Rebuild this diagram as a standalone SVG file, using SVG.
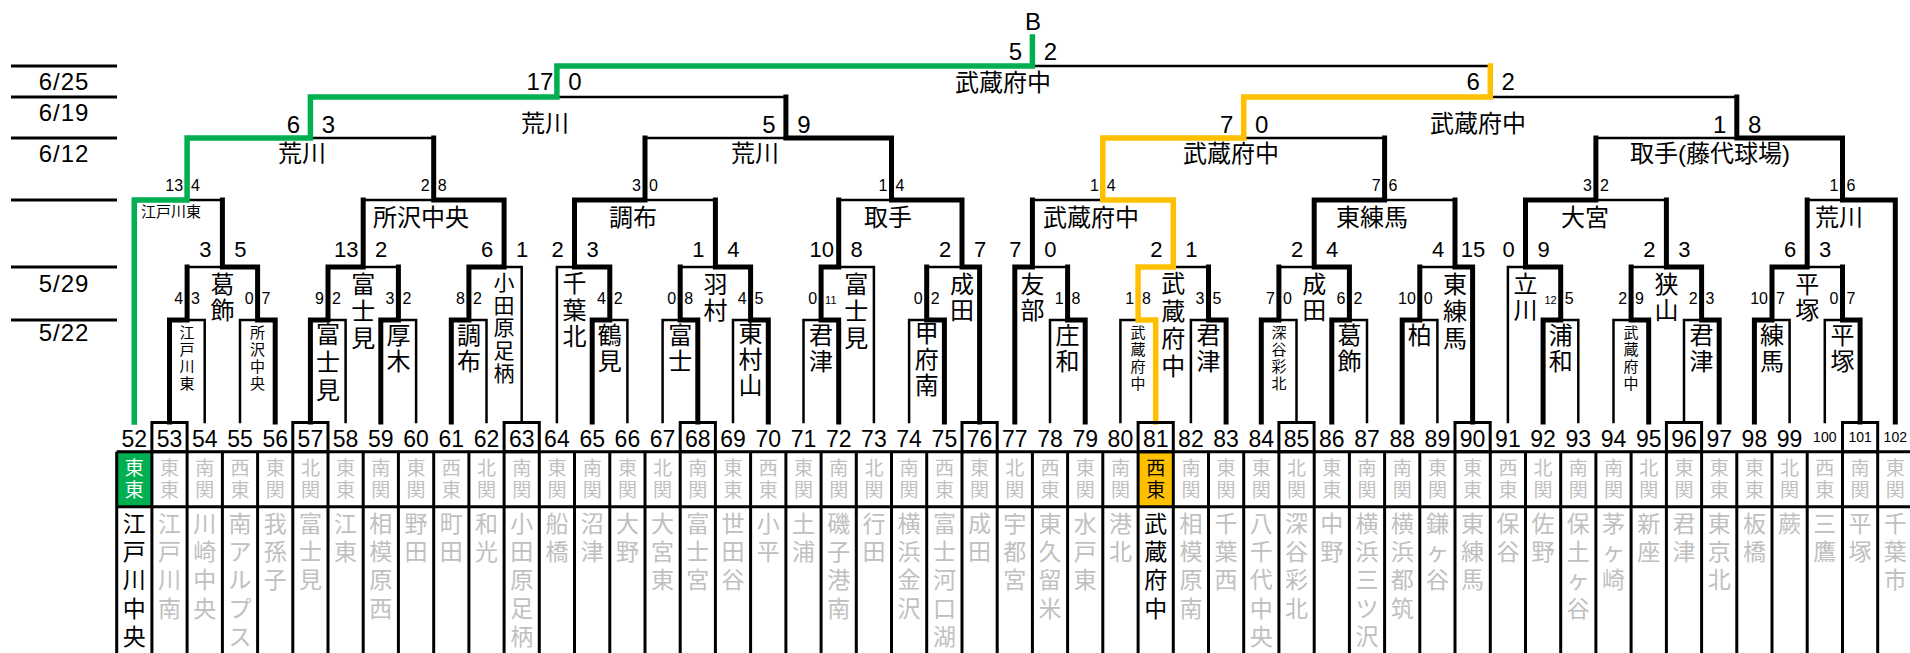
<svg xmlns="http://www.w3.org/2000/svg" width="1910" height="653" viewBox="0 0 1910 653">
<style>
text{font-family:"Liberation Sans","Noto Sans CJK JP",sans-serif;fill:#000}
.k{stroke:#000;stroke-width:5;fill:none;stroke-linecap:square;stroke-linejoin:miter}
.t{stroke:#000;stroke-width:2.5;fill:none;stroke-linecap:square;stroke-linejoin:miter}
.g{stroke:#00b050;stroke-width:5.5;fill:none;stroke-linecap:square;stroke-linejoin:miter}
.y{stroke:#ffc000;stroke-width:5.5;fill:none;stroke-linecap:square;stroke-linejoin:miter}
.gr{stroke:#000;stroke-width:3;fill:none}
.num{font-size:23px;text-anchor:middle}
.sn{font-size:14px;text-anchor:middle}
.rg{font-size:19px;text-anchor:middle;fill:#c0c0c0}
.nm{font-size:23px;text-anchor:middle;fill:#c0c0c0}
.w{fill:#000}
.wh{fill:#fff}
.sc{font-size:24px;text-anchor:middle}
.s2{font-size:22px;text-anchor:middle}
.sl{font-size:16px;text-anchor:end}
.sr{font-size:16px;text-anchor:start}
.tn{font-size:11px}
.lb{font-size:24px;text-anchor:middle}
.vl{font-size:24px;text-anchor:middle}
.v5{font-size:21px;text-anchor:middle}
.vs{font-size:15px;text-anchor:middle}
.dt{font-size:24px;text-anchor:middle;letter-spacing:1px}
</style>

<g id="dates">
<path class="gr" d="M11 66H117M11 97H117M11 138H117M11 200H117M11 267H117M11 320H117"/>
<text class="dt" x="64" y="90">6/25</text>
<text class="dt" x="64" y="120.7">6/19</text>
<text class="dt" x="64" y="162.3">6/12</text>
<text class="dt" x="64" y="291.7">5/29</text>
<text class="dt" x="64" y="341">5/22</text>
</g>

<g id="connectors">
<path class="t" d="M187.1 267H222.4M222.4 200H187.1M363.2 200H433.7M398.4 267H363.2M433.7 138H310.4M645 138H785.9M680.2 267H715.4M715.4 200H645M838.7 200H891.5M926.7 267H962M785.9 97H556.9M1032.4 200H1102.8M1067.6 267H1032.4M1208.5 267H1173.3M1278.9 267H1314.2M1384.6 138H1243.7M1419.8 267H1455M1455 200H1384.6M1595.9 138H1736.8M1631.1 267H1666.4M1666.4 200H1595.9M1807.2 200H1842.5M1842.5 267H1807.2M1736.8 97H1490.3M1032.4 66H1490.3
M204.7 422V320H187.1M240 422V320H257.6M345.6 422V320H328M416.1 422V320H398.4M486.5 422V320H468.9M521.7 422V267H504.1M556.9 422V267H574.5M627.4 422V320H609.8M662.6 422V320H680.2M733 422V320H750.6M803.5 422V320H821.1M873.9 422V267H838.7M909.1 422V320H926.7M1050 422V320H1067.6M1120.4 422V320H1138.1M1190.9 422V320H1208.5M1296.5 422V320H1278.9M1367 422V320H1349.4M1437.4 422V320H1419.8M1507.9 422V267H1525.5M1578.3 422V320H1560.7M1613.5 422V320H1631.1M1684 422V320H1701.6M1789.6 422V320H1772M1824.8 422V320H1842.5"/>
<path class="k" d="M169.5 422V320H187.1V267M275.2 422V320H257.6V267H222.4V200M310.4 422V320H328V267H363.2V200M380.8 422V320H398.4V267M451.3 422V320H468.9V267H504.1V200H433.7V138M592.2 422V320H609.8V267H574.5V200H645V138M697.8 422V320H680.2V267M768.3 422V320H750.6V267H715.4V200M838.7 422V320H821.1V267H838.7V200M944.4 422V320H926.7V267M979.6 422V267H962V200H891.5V138H785.9V97M1014.8 422V267H1032.4V200M1085.2 422V320H1067.6V267M1226.1 422V320H1208.5V267M1261.3 422V320H1278.9V267M1331.8 422V320H1349.4V267H1314.2V200H1384.6V138M1402.2 422V320H1419.8V267M1472.6 422V267H1455V200M1543.1 422V320H1560.7V267H1525.5V200H1595.9V138M1648.7 422V320H1631.1V267M1719.2 422V320H1701.6V267H1666.4V200M1754.4 422V320H1772V267H1807.2V200M1860.1 422V320H1842.5V267M1895.3 422V200H1842.5V138H1736.8V97"/>
<path class="g" d="M134.3 422V200H187.1V138H310.4V97H556.9V66H1032.4V37"/>
<path class="y" d="M1155.7 422V320H1138.1V267H1173.3V200H1102.8V138H1243.7V97H1490.3V66"/>
</g>

<g id="champion">
<text class="sc" x="1033" y="30">B</text>
</g>

<g id="scores">
<text class="sc" x="1015.4" y="59.5">5</text><text class="sc" x="1050.4" y="59.5">2</text>
<text class="sc" x="539.9" y="90">17</text><text class="sc" x="574.9" y="90">0</text>
<text class="sc" x="1473.3" y="90">6</text><text class="sc" x="1508.3" y="90">2</text>
<text class="sc" x="293.4" y="132.5">6</text><text class="sc" x="328.4" y="132.5">3</text>
<text class="sc" x="768.9" y="132.5">5</text><text class="sc" x="803.9" y="132.5">9</text>
<text class="sc" x="1226.7" y="132.5">7</text><text class="sc" x="1261.7" y="132.5">0</text>
<text class="sc" x="1719.8" y="132.5">1</text><text class="sc" x="1754.8" y="132.5">8</text>

<text class="sl" x="183.1" y="191">13</text><text class="sr" x="191.1" y="191">4</text>
<text class="sl" x="429.7" y="191">2</text><text class="sr" x="437.7" y="191">8</text>
<text class="sl" x="641" y="191">3</text><text class="sr" x="649" y="191">0</text>
<text class="sl" x="887.5" y="191">1</text><text class="sr" x="895.5" y="191">4</text>
<text class="sl" x="1098.8" y="191">1</text><text class="sr" x="1106.8" y="191">4</text>
<text class="sl" x="1380.6" y="191">7</text><text class="sr" x="1388.6" y="191">6</text>
<text class="sl" x="1591.9" y="191">3</text><text class="sr" x="1599.9" y="191">2</text>
<text class="sl" x="1838.5" y="191">1</text><text class="sr" x="1846.5" y="191">6</text>

<text class="s2" x="205.4" y="256.5">3</text><text class="s2" x="240.4" y="256.5">5</text>
<text class="s2" x="346.2" y="256.5">13</text><text class="s2" x="381.2" y="256.5">2</text>
<text class="s2" x="487.1" y="256.5">6</text><text class="s2" x="522.1" y="256.5">1</text>
<text class="s2" x="557.5" y="256.5">2</text><text class="s2" x="592.5" y="256.5">3</text>
<text class="s2" x="698.4" y="256.5">1</text><text class="s2" x="733.4" y="256.5">4</text>
<text class="s2" x="821.7" y="256.5">10</text><text class="s2" x="856.7" y="256.5">8</text>
<text class="s2" x="945" y="256.5">2</text><text class="s2" x="980" y="256.5">7</text>
<text class="s2" x="1015.4" y="256.5">7</text><text class="s2" x="1050.4" y="256.5">0</text>
<text class="s2" x="1156.3" y="256.5">2</text><text class="s2" x="1191.3" y="256.5">1</text>
<text class="s2" x="1297.2" y="256.5">2</text><text class="s2" x="1332.2" y="256.5">4</text>
<text class="s2" x="1438" y="256.5">4</text><text class="s2" x="1473" y="256.5">15</text>
<text class="s2" x="1508.5" y="256.5">0</text><text class="s2" x="1543.5" y="256.5">9</text>
<text class="s2" x="1649.4" y="256.5">2</text><text class="s2" x="1684.4" y="256.5">3</text>
<text class="s2" x="1790.2" y="256.5">6</text><text class="s2" x="1825.2" y="256.5">3</text>

<text class="sl" x="183.1" y="304">4</text><text class="sr" x="191.1" y="304">3</text>
<text class="sl" x="253.6" y="304">0</text><text class="sr" x="261.6" y="304">7</text>
<text class="sl" x="324" y="304">9</text><text class="sr" x="332" y="304">2</text>
<text class="sl" x="394.4" y="304">3</text><text class="sr" x="402.4" y="304">2</text>
<text class="sl" x="464.9" y="304">8</text><text class="sr" x="472.9" y="304">2</text>
<text class="sl" x="605.8" y="304">4</text><text class="sr" x="613.8" y="304">2</text>
<text class="sl" x="676.2" y="304">0</text><text class="sr" x="684.2" y="304">8</text>
<text class="sl" x="746.6" y="304">4</text><text class="sr" x="754.6" y="304">5</text>
<text class="sl" x="817.1" y="304">0</text><text class="sr tn" x="825.1" y="304">11</text>
<text class="sl" x="922.7" y="304">0</text><text class="sr" x="930.7" y="304">2</text>
<text class="sl" x="1063.6" y="304">1</text><text class="sr" x="1071.6" y="304">8</text>
<text class="sl" x="1134.1" y="304">1</text><text class="sr" x="1142.1" y="304">8</text>
<text class="sl" x="1204.5" y="304">3</text><text class="sr" x="1212.5" y="304">5</text>
<text class="sl" x="1274.9" y="304">7</text><text class="sr" x="1282.9" y="304">0</text>
<text class="sl" x="1345.4" y="304">6</text><text class="sr" x="1353.4" y="304">2</text>
<text class="sl" x="1415.8" y="304">10</text><text class="sr" x="1423.8" y="304">0</text>
<text class="sl tn" x="1556.7" y="304">12</text><text class="sr" x="1564.7" y="304">5</text>
<text class="sl" x="1627.1" y="304">2</text><text class="sr" x="1635.1" y="304">9</text>
<text class="sl" x="1697.6" y="304">2</text><text class="sr" x="1705.6" y="304">3</text>
<text class="sl" x="1768" y="304">10</text><text class="sr" x="1776" y="304">7</text>
<text class="sl" x="1838.5" y="304">0</text><text class="sr" x="1846.5" y="304">7</text>
</g>

<g id="venues">
<text class="lb" x="1003" y="90.8">武蔵府中</text>
<text class="lb" x="545" y="132">荒川</text>
<text class="lb" x="1478" y="132">武蔵府中</text>
<text class="lb" x="302" y="162">荒川</text>
<text class="lb" x="755" y="162">荒川</text>
<text class="lb" x="1231" y="162">武蔵府中</text>
<text class="lb" x="1710" y="162">取手(藤代球場)</text>
<text class="vs" x="171" y="216.7">江戸川東</text>
<text class="lb" x="421" y="225.6">所沢中央</text>
<text class="lb" x="633" y="225.6">調布</text>
<text class="lb" x="888" y="225.6">取手</text>
<text class="lb" x="1091" y="225.6">武蔵府中</text>
<text class="lb" x="1372" y="225.6">東練馬</text>
<text class="lb" x="1585" y="225.6">大宮</text>
<text class="lb" x="1839" y="225.6">荒川</text>

<text class="vl" x="222.4" y="293">葛<tspan x="222.4" dy="26">飾</tspan></text>
<text class="vl" x="363.2" y="293">富<tspan x="363.2" dy="27">士</tspan><tspan x="363.2" dy="27">見</tspan></text>
<text class="v5" x="504.1" y="289.7">小<tspan x="504.1" dy="22.8">田</tspan><tspan x="504.1" dy="22.8">原</tspan><tspan x="504.1" dy="22.8">足</tspan><tspan x="504.1" dy="22.8">柄</tspan></text>
<text class="vl" x="574.5" y="292">千<tspan x="574.5" dy="26.7">葉</tspan><tspan x="574.5" dy="26.7">北</tspan></text>
<text class="vl" x="715.4" y="293">羽<tspan x="715.4" dy="26">村</tspan></text>
<text class="vl" x="856.3" y="293">富<tspan x="856.3" dy="27">士</tspan><tspan x="856.3" dy="27">見</tspan></text>
<text class="vl" x="962" y="293">成<tspan x="962" dy="26">田</tspan></text>
<text class="vl" x="1032.4" y="293">友<tspan x="1032.4" dy="26">部</tspan></text>
<text class="vl" x="1173.3" y="292">武<tspan x="1173.3" dy="27.7">蔵</tspan><tspan x="1173.3" dy="27.7">府</tspan><tspan x="1173.3" dy="27.7">中</tspan></text>
<text class="vl" x="1314.2" y="293">成<tspan x="1314.2" dy="26">田</tspan></text>
<text class="vl" x="1455" y="293">東<tspan x="1455" dy="27">練</tspan><tspan x="1455" dy="27">馬</tspan></text>
<text class="vl" x="1525.5" y="293">立<tspan x="1525.5" dy="26">川</tspan></text>
<text class="vl" x="1666.4" y="293">狭<tspan x="1666.4" dy="26">山</tspan></text>
<text class="vl" x="1807.2" y="293">平<tspan x="1807.2" dy="26">塚</tspan></text>

<text class="vs" x="187.1" y="338.2">江<tspan x="187.1" dy="17">戸</tspan><tspan x="187.1" dy="17">川</tspan><tspan x="187.1" dy="17">東</tspan></text>
<text class="vs" x="257.6" y="338.2">所<tspan x="257.6" dy="17">沢</tspan><tspan x="257.6" dy="17">中</tspan><tspan x="257.6" dy="17">央</tspan></text>
<text class="vl" x="328" y="343">富<tspan x="328" dy="28">士</tspan><tspan x="328" dy="28">見</tspan></text>
<text class="vl" x="398.4" y="344">厚<tspan x="398.4" dy="26">木</tspan></text>
<text class="vl" x="468.9" y="344">調<tspan x="468.9" dy="26">布</tspan></text>
<text class="vl" x="609.8" y="344">鶴<tspan x="609.8" dy="26">見</tspan></text>
<text class="vl" x="680.2" y="344">富<tspan x="680.2" dy="26">士</tspan></text>
<text class="vl" x="750.6" y="342">東<tspan x="750.6" dy="26">村</tspan><tspan x="750.6" dy="26">山</tspan></text>
<text class="vl" x="821.1" y="344">君<tspan x="821.1" dy="26">津</tspan></text>
<text class="vl" x="926.7" y="342">甲<tspan x="926.7" dy="26">府</tspan><tspan x="926.7" dy="26">南</tspan></text>
<text class="vl" x="1067.6" y="344">庄<tspan x="1067.6" dy="26">和</tspan></text>
<text class="vs" x="1138.1" y="338.2">武<tspan x="1138.1" dy="17">蔵</tspan><tspan x="1138.1" dy="17">府</tspan><tspan x="1138.1" dy="17">中</tspan></text>
<text class="vl" x="1208.5" y="344">君<tspan x="1208.5" dy="26">津</tspan></text>
<text class="vs" x="1278.9" y="338.2">深<tspan x="1278.9" dy="17">谷</tspan><tspan x="1278.9" dy="17">彩</tspan><tspan x="1278.9" dy="17">北</tspan></text>
<text class="vl" x="1349.4" y="344">葛<tspan x="1349.4" dy="26">飾</tspan></text>
<text class="vl" x="1419.8" y="344">柏</text>
<text class="vl" x="1560.7" y="344">浦<tspan x="1560.7" dy="26">和</tspan></text>
<text class="vs" x="1631.1" y="338.2">武<tspan x="1631.1" dy="17">蔵</tspan><tspan x="1631.1" dy="17">府</tspan><tspan x="1631.1" dy="17">中</tspan></text>
<text class="vl" x="1701.6" y="344">君<tspan x="1701.6" dy="26">津</tspan></text>
<text class="vl" x="1772" y="344">練<tspan x="1772" dy="26">馬</tspan></text>
<text class="vl" x="1842.5" y="344">平<tspan x="1842.5" dy="26">塚</tspan></text>
</g>

<g id="table">
<rect x="116.7" y="451.7" width="35.22" height="55" fill="#00b050"/>
<rect x="1138.1" y="451.7" width="35.22" height="55" fill="#ffc000"/>
<path class="gr" d="M116.7 451.7H1910M116.7 506.7H1910M116.7 451.7V653M151.9 451.7V653M187.1 451.7V653M222.4 451.7V653M257.6 451.7V653M292.8 451.7V653M328 451.7V653M363.2 451.7V653M398.4 451.7V653M433.7 451.7V653M468.9 451.7V653M504.1 451.7V653M539.3 451.7V653M574.5 451.7V653M609.8 451.7V653M645 451.7V653M680.2 451.7V653M715.4 451.7V653M750.6 451.7V653M785.9 451.7V653M821.1 451.7V653M856.3 451.7V653M891.5 451.7V653M926.7 451.7V653M962 451.7V653M997.2 451.7V653M1032.4 451.7V653M1067.6 451.7V653M1102.8 451.7V653M1138.1 451.7V653M1173.3 451.7V653M1208.5 451.7V653M1243.7 451.7V653M1278.9 451.7V653M1314.2 451.7V653M1349.4 451.7V653M1384.6 451.7V653M1419.8 451.7V653M1455 451.7V653M1490.3 451.7V653M1525.5 451.7V653M1560.7 451.7V653M1595.9 451.7V653M1631.1 451.7V653M1666.4 451.7V653M1701.6 451.7V653M1736.8 451.7V653M1772 451.7V653M1807.2 451.7V653M1842.5 451.7V653M1877.7 451.7V653"/>
<path class="gr" d="M151.9 422.5h35.2v29.2h-35.2zM292.8 422.5h35.2v29.2h-35.2zM504.1 422.5h35.2v29.2h-35.2zM680.2 422.5h35.2v29.2h-35.2zM962 422.5h35.2v29.2h-35.2zM1138.1 422.5h35.2v29.2h-35.2zM1278.9 422.5h35.2v29.2h-35.2zM1455 422.5h35.2v29.2h-35.2zM1666.4 422.5h35.2v29.2h-35.2zM1842.5 422.5h35.2v29.2h-35.2z"/>
</g>

<g id="numbers">
<text class="num" x="134.3" y="446.5">52</text><text class="num" x="169.5" y="446.5">53</text><text class="num" x="204.7" y="446.5">54</text><text class="num" x="240" y="446.5">55</text><text class="num" x="275.2" y="446.5">56</text><text class="num" x="310.4" y="446.5">57</text><text class="num" x="345.6" y="446.5">58</text><text class="num" x="380.8" y="446.5">59</text><text class="num" x="416.1" y="446.5">60</text><text class="num" x="451.3" y="446.5">61</text><text class="num" x="486.5" y="446.5">62</text><text class="num" x="521.7" y="446.5">63</text><text class="num" x="556.9" y="446.5">64</text><text class="num" x="592.2" y="446.5">65</text><text class="num" x="627.4" y="446.5">66</text><text class="num" x="662.6" y="446.5">67</text><text class="num" x="697.8" y="446.5">68</text><text class="num" x="733" y="446.5">69</text><text class="num" x="768.3" y="446.5">70</text><text class="num" x="803.5" y="446.5">71</text><text class="num" x="838.7" y="446.5">72</text><text class="num" x="873.9" y="446.5">73</text><text class="num" x="909.1" y="446.5">74</text><text class="num" x="944.4" y="446.5">75</text><text class="num" x="979.6" y="446.5">76</text><text class="num" x="1014.8" y="446.5">77</text><text class="num" x="1050" y="446.5">78</text><text class="num" x="1085.2" y="446.5">79</text><text class="num" x="1120.4" y="446.5">80</text><text class="num" x="1155.7" y="446.5">81</text><text class="num" x="1190.9" y="446.5">82</text><text class="num" x="1226.1" y="446.5">83</text><text class="num" x="1261.3" y="446.5">84</text><text class="num" x="1296.5" y="446.5">85</text><text class="num" x="1331.8" y="446.5">86</text><text class="num" x="1367" y="446.5">87</text><text class="num" x="1402.2" y="446.5">88</text><text class="num" x="1437.4" y="446.5">89</text><text class="num" x="1472.6" y="446.5">90</text><text class="num" x="1507.9" y="446.5">91</text><text class="num" x="1543.1" y="446.5">92</text><text class="num" x="1578.3" y="446.5">93</text><text class="num" x="1613.5" y="446.5">94</text><text class="num" x="1648.7" y="446.5">95</text><text class="num" x="1684" y="446.5">96</text><text class="num" x="1719.2" y="446.5">97</text><text class="num" x="1754.4" y="446.5">98</text><text class="num" x="1789.6" y="446.5">99</text>
<text class="sn" x="1824.8" y="441.7">100</text><text class="sn" x="1860.1" y="441.7">101</text><text class="sn" x="1895.3" y="441.7">102</text>
</g>

<g id="regions">
<text class="rg wh" x="134.3" y="475.2">東<tspan x="134.3" y="496.7">東</tspan></text>
<text class="rg" x="169.5" y="475.2">東<tspan x="169.5" y="496.7">東</tspan></text>
<text class="rg" x="204.7" y="475.2">南<tspan x="204.7" y="496.7">関</tspan></text>
<text class="rg" x="240" y="475.2">西<tspan x="240" y="496.7">東</tspan></text>
<text class="rg" x="275.2" y="475.2">東<tspan x="275.2" y="496.7">関</tspan></text>
<text class="rg" x="310.4" y="475.2">北<tspan x="310.4" y="496.7">関</tspan></text>
<text class="rg" x="345.6" y="475.2">東<tspan x="345.6" y="496.7">東</tspan></text>
<text class="rg" x="380.8" y="475.2">南<tspan x="380.8" y="496.7">関</tspan></text>
<text class="rg" x="416.1" y="475.2">東<tspan x="416.1" y="496.7">関</tspan></text>
<text class="rg" x="451.3" y="475.2">西<tspan x="451.3" y="496.7">東</tspan></text>
<text class="rg" x="486.5" y="475.2">北<tspan x="486.5" y="496.7">関</tspan></text>
<text class="rg" x="521.7" y="475.2">南<tspan x="521.7" y="496.7">関</tspan></text>
<text class="rg" x="556.9" y="475.2">東<tspan x="556.9" y="496.7">関</tspan></text>
<text class="rg" x="592.2" y="475.2">南<tspan x="592.2" y="496.7">関</tspan></text>
<text class="rg" x="627.4" y="475.2">東<tspan x="627.4" y="496.7">関</tspan></text>
<text class="rg" x="662.6" y="475.2">北<tspan x="662.6" y="496.7">関</tspan></text>
<text class="rg" x="697.8" y="475.2">南<tspan x="697.8" y="496.7">関</tspan></text>
<text class="rg" x="733" y="475.2">東<tspan x="733" y="496.7">東</tspan></text>
<text class="rg" x="768.3" y="475.2">西<tspan x="768.3" y="496.7">東</tspan></text>
<text class="rg" x="803.5" y="475.2">東<tspan x="803.5" y="496.7">関</tspan></text>
<text class="rg" x="838.7" y="475.2">南<tspan x="838.7" y="496.7">関</tspan></text>
<text class="rg" x="873.9" y="475.2">北<tspan x="873.9" y="496.7">関</tspan></text>
<text class="rg" x="909.1" y="475.2">南<tspan x="909.1" y="496.7">関</tspan></text>
<text class="rg" x="944.4" y="475.2">西<tspan x="944.4" y="496.7">東</tspan></text>
<text class="rg" x="979.6" y="475.2">東<tspan x="979.6" y="496.7">関</tspan></text>
<text class="rg" x="1014.8" y="475.2">北<tspan x="1014.8" y="496.7">関</tspan></text>
<text class="rg" x="1050" y="475.2">西<tspan x="1050" y="496.7">東</tspan></text>
<text class="rg" x="1085.2" y="475.2">東<tspan x="1085.2" y="496.7">関</tspan></text>
<text class="rg" x="1120.4" y="475.2">南<tspan x="1120.4" y="496.7">関</tspan></text>
<text class="rg w" x="1155.7" y="475.2">西<tspan x="1155.7" y="496.7">東</tspan></text>
<text class="rg" x="1190.9" y="475.2">南<tspan x="1190.9" y="496.7">関</tspan></text>
<text class="rg" x="1226.1" y="475.2">東<tspan x="1226.1" y="496.7">関</tspan></text>
<text class="rg" x="1261.3" y="475.2">東<tspan x="1261.3" y="496.7">関</tspan></text>
<text class="rg" x="1296.5" y="475.2">北<tspan x="1296.5" y="496.7">関</tspan></text>
<text class="rg" x="1331.8" y="475.2">東<tspan x="1331.8" y="496.7">東</tspan></text>
<text class="rg" x="1367" y="475.2">南<tspan x="1367" y="496.7">関</tspan></text>
<text class="rg" x="1402.2" y="475.2">南<tspan x="1402.2" y="496.7">関</tspan></text>
<text class="rg" x="1437.4" y="475.2">東<tspan x="1437.4" y="496.7">関</tspan></text>
<text class="rg" x="1472.6" y="475.2">東<tspan x="1472.6" y="496.7">東</tspan></text>
<text class="rg" x="1507.9" y="475.2">西<tspan x="1507.9" y="496.7">東</tspan></text>
<text class="rg" x="1543.1" y="475.2">北<tspan x="1543.1" y="496.7">関</tspan></text>
<text class="rg" x="1578.3" y="475.2">南<tspan x="1578.3" y="496.7">関</tspan></text>
<text class="rg" x="1613.5" y="475.2">南<tspan x="1613.5" y="496.7">関</tspan></text>
<text class="rg" x="1648.7" y="475.2">北<tspan x="1648.7" y="496.7">関</tspan></text>
<text class="rg" x="1684" y="475.2">東<tspan x="1684" y="496.7">関</tspan></text>
<text class="rg" x="1719.2" y="475.2">東<tspan x="1719.2" y="496.7">東</tspan></text>
<text class="rg" x="1754.4" y="475.2">東<tspan x="1754.4" y="496.7">東</tspan></text>
<text class="rg" x="1789.6" y="475.2">北<tspan x="1789.6" y="496.7">関</tspan></text>
<text class="rg" x="1824.8" y="475.2">西<tspan x="1824.8" y="496.7">東</tspan></text>
<text class="rg" x="1860.1" y="475.2">南<tspan x="1860.1" y="496.7">関</tspan></text>
<text class="rg" x="1895.3" y="475.2">東<tspan x="1895.3" y="496.7">関</tspan></text>
</g>

<g id="teams">
<text class="nm w" x="134.3" y="531.7">江<tspan x="134.3" dy="28.3">戸</tspan><tspan x="134.3" dy="28.3">川</tspan><tspan x="134.3" dy="28.3">中</tspan><tspan x="134.3" dy="28.3">央</tspan></text>
<text class="nm" x="169.5" y="531.7">江<tspan x="169.5" dy="28.3">戸</tspan><tspan x="169.5" dy="28.3">川</tspan><tspan x="169.5" dy="28.3">南</tspan></text>
<text class="nm" x="204.7" y="531.7">川<tspan x="204.7" dy="28.3">崎</tspan><tspan x="204.7" dy="28.3">中</tspan><tspan x="204.7" dy="28.3">央</tspan></text>
<text class="nm" x="240" y="531.7">南<tspan x="240" dy="28.3">ア</tspan><tspan x="240" dy="28.3">ル</tspan><tspan x="240" dy="28.3">プ</tspan><tspan x="240" dy="28.3">ス</tspan></text>
<text class="nm" x="275.2" y="531.7">我<tspan x="275.2" dy="28.3">孫</tspan><tspan x="275.2" dy="28.3">子</tspan></text>
<text class="nm" x="310.4" y="531.7">富<tspan x="310.4" dy="28.3">士</tspan><tspan x="310.4" dy="28.3">見</tspan></text>
<text class="nm" x="345.6" y="531.7">江<tspan x="345.6" dy="28.3">東</tspan></text>
<text class="nm" x="380.8" y="531.7">相<tspan x="380.8" dy="28.3">模</tspan><tspan x="380.8" dy="28.3">原</tspan><tspan x="380.8" dy="28.3">西</tspan></text>
<text class="nm" x="416.1" y="531.7">野<tspan x="416.1" dy="28.3">田</tspan></text>
<text class="nm" x="451.3" y="531.7">町<tspan x="451.3" dy="28.3">田</tspan></text>
<text class="nm" x="486.5" y="531.7">和<tspan x="486.5" dy="28.3">光</tspan></text>
<text class="nm" x="521.7" y="531.7">小<tspan x="521.7" dy="28.3">田</tspan><tspan x="521.7" dy="28.3">原</tspan><tspan x="521.7" dy="28.3">足</tspan><tspan x="521.7" dy="28.3">柄</tspan></text>
<text class="nm" x="556.9" y="531.7">船<tspan x="556.9" dy="28.3">橋</tspan></text>
<text class="nm" x="592.2" y="531.7">沼<tspan x="592.2" dy="28.3">津</tspan></text>
<text class="nm" x="627.4" y="531.7">大<tspan x="627.4" dy="28.3">野</tspan></text>
<text class="nm" x="662.6" y="531.7">大<tspan x="662.6" dy="28.3">宮</tspan><tspan x="662.6" dy="28.3">東</tspan></text>
<text class="nm" x="697.8" y="531.7">富<tspan x="697.8" dy="28.3">士</tspan><tspan x="697.8" dy="28.3">宮</tspan></text>
<text class="nm" x="733" y="531.7">世<tspan x="733" dy="28.3">田</tspan><tspan x="733" dy="28.3">谷</tspan></text>
<text class="nm" x="768.3" y="531.7">小<tspan x="768.3" dy="28.3">平</tspan></text>
<text class="nm" x="803.5" y="531.7">土<tspan x="803.5" dy="28.3">浦</tspan></text>
<text class="nm" x="838.7" y="531.7">磯<tspan x="838.7" dy="28.3">子</tspan><tspan x="838.7" dy="28.3">港</tspan><tspan x="838.7" dy="28.3">南</tspan></text>
<text class="nm" x="873.9" y="531.7">行<tspan x="873.9" dy="28.3">田</tspan></text>
<text class="nm" x="909.1" y="531.7">横<tspan x="909.1" dy="28.3">浜</tspan><tspan x="909.1" dy="28.3">金</tspan><tspan x="909.1" dy="28.3">沢</tspan></text>
<text class="nm" x="944.4" y="531.7">富<tspan x="944.4" dy="28.3">士</tspan><tspan x="944.4" dy="28.3">河</tspan><tspan x="944.4" dy="28.3">口</tspan><tspan x="944.4" dy="28.3">湖</tspan></text>
<text class="nm" x="979.6" y="531.7">成<tspan x="979.6" dy="28.3">田</tspan></text>
<text class="nm" x="1014.8" y="531.7">宇<tspan x="1014.8" dy="28.3">都</tspan><tspan x="1014.8" dy="28.3">宮</tspan></text>
<text class="nm" x="1050" y="531.7">東<tspan x="1050" dy="28.3">久</tspan><tspan x="1050" dy="28.3">留</tspan><tspan x="1050" dy="28.3">米</tspan></text>
<text class="nm" x="1085.2" y="531.7">水<tspan x="1085.2" dy="28.3">戸</tspan><tspan x="1085.2" dy="28.3">東</tspan></text>
<text class="nm" x="1120.4" y="531.7">港<tspan x="1120.4" dy="28.3">北</tspan></text>
<text class="nm w" x="1155.7" y="531.7">武<tspan x="1155.7" dy="28.3">蔵</tspan><tspan x="1155.7" dy="28.3">府</tspan><tspan x="1155.7" dy="28.3">中</tspan></text>
<text class="nm" x="1190.9" y="531.7">相<tspan x="1190.9" dy="28.3">模</tspan><tspan x="1190.9" dy="28.3">原</tspan><tspan x="1190.9" dy="28.3">南</tspan></text>
<text class="nm" x="1226.1" y="531.7">千<tspan x="1226.1" dy="28.3">葉</tspan><tspan x="1226.1" dy="28.3">西</tspan></text>
<text class="nm" x="1261.3" y="531.7">八<tspan x="1261.3" dy="28.3">千</tspan><tspan x="1261.3" dy="28.3">代</tspan><tspan x="1261.3" dy="28.3">中</tspan><tspan x="1261.3" dy="28.3">央</tspan></text>
<text class="nm" x="1296.5" y="531.7">深<tspan x="1296.5" dy="28.3">谷</tspan><tspan x="1296.5" dy="28.3">彩</tspan><tspan x="1296.5" dy="28.3">北</tspan></text>
<text class="nm" x="1331.8" y="531.7">中<tspan x="1331.8" dy="28.3">野</tspan></text>
<text class="nm" x="1367" y="531.7">横<tspan x="1367" dy="28.3">浜</tspan><tspan x="1367" dy="28.3">三</tspan><tspan x="1367" dy="28.3">ツ</tspan><tspan x="1367" dy="28.3">沢</tspan></text>
<text class="nm" x="1402.2" y="531.7">横<tspan x="1402.2" dy="28.3">浜</tspan><tspan x="1402.2" dy="28.3">都</tspan><tspan x="1402.2" dy="28.3">筑</tspan></text>
<text class="nm" x="1437.4" y="531.7">鎌<tspan x="1437.4" dy="28.3">ヶ</tspan><tspan x="1437.4" dy="28.3">谷</tspan></text>
<text class="nm" x="1472.6" y="531.7">東<tspan x="1472.6" dy="28.3">練</tspan><tspan x="1472.6" dy="28.3">馬</tspan></text>
<text class="nm" x="1507.9" y="531.7">保<tspan x="1507.9" dy="28.3">谷</tspan></text>
<text class="nm" x="1543.1" y="531.7">佐<tspan x="1543.1" dy="28.3">野</tspan></text>
<text class="nm" x="1578.3" y="531.7">保<tspan x="1578.3" dy="28.3">土</tspan><tspan x="1578.3" dy="28.3">ヶ</tspan><tspan x="1578.3" dy="28.3">谷</tspan></text>
<text class="nm" x="1613.5" y="531.7">茅<tspan x="1613.5" dy="28.3">ヶ</tspan><tspan x="1613.5" dy="28.3">崎</tspan></text>
<text class="nm" x="1648.7" y="531.7">新<tspan x="1648.7" dy="28.3">座</tspan></text>
<text class="nm" x="1684" y="531.7">君<tspan x="1684" dy="28.3">津</tspan></text>
<text class="nm" x="1719.2" y="531.7">東<tspan x="1719.2" dy="28.3">京</tspan><tspan x="1719.2" dy="28.3">北</tspan></text>
<text class="nm" x="1754.4" y="531.7">板<tspan x="1754.4" dy="28.3">橋</tspan></text>
<text class="nm" x="1789.6" y="531.7">蕨</text>
<text class="nm" x="1824.8" y="531.7">三<tspan x="1824.8" dy="28.3">鷹</tspan></text>
<text class="nm" x="1860.1" y="531.7">平<tspan x="1860.1" dy="28.3">塚</tspan></text>
<text class="nm" x="1895.3" y="531.7">千<tspan x="1895.3" dy="28.3">葉</tspan><tspan x="1895.3" dy="28.3">市</tspan></text>
</g>
</svg>
